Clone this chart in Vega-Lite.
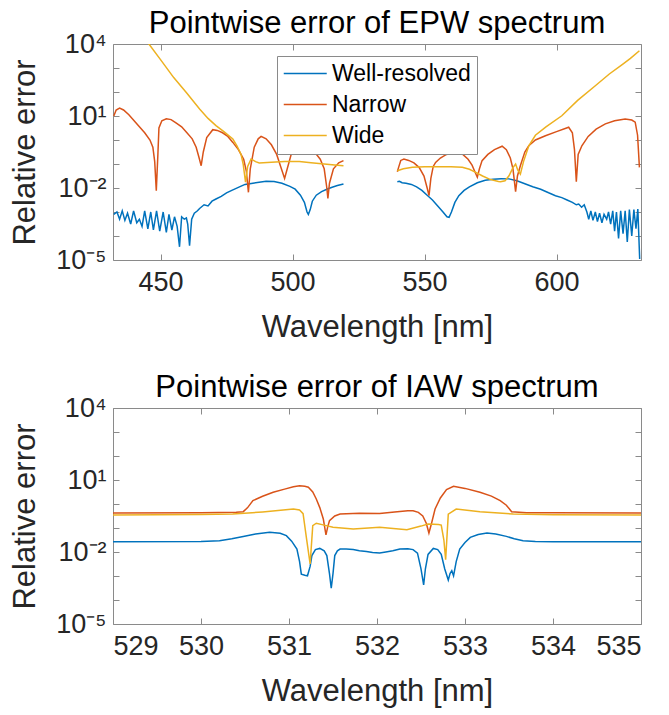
{
"$schema": "https://vega.github.io/schema/vega-lite/v6.json",
"padding": {"left": 9, "top": 8, "right": 5, "bottom": 2},
"config": {
  "font": "Liberation Sans",
  "view": {"stroke": null},
  "axis": {"grid": false, "domainColor": "#8a8a8a", "tickColor": "#8a8a8a", "labelColor": "#262626", "titleColor": "#262626", "labelFont": "Liberation Sans", "titleFont": "Liberation Sans", "labelFontSize": 27, "titleFontSize": 31, "titleFontWeight": "normal", "tickSize": -6, "labelPadding": 10},
  "axisX": {"titlePadding": 17, "labelPadding": 15},
  "axisY": {"titlePadding": 14, "labelPadding": 13},
  "title": {"fontSize": 31, "fontWeight": "normal", "color": "#000000", "font": "Liberation Sans", "offset": -10}
},
"datasets": {
"epw": [
{"wl":432.3,"err":7.94e-4,"method":"Well-resolved","part":"a"},
{"wl":433.5,"err":1.0e-3,"method":"Well-resolved","part":"a"},
{"wl":434.5,"err":5.01e-4,"method":"Well-resolved","part":"a"},
{"wl":435.5,"err":1.12e-3,"method":"Well-resolved","part":"a"},
{"wl":436.5,"err":4.47e-4,"method":"Well-resolved","part":"a"},
{"wl":437.5,"err":8.91e-4,"method":"Well-resolved","part":"a"},
{"wl":438.7,"err":3.16e-4,"method":"Well-resolved","part":"a"},
{"wl":439.8,"err":1.12e-3,"method":"Well-resolved","part":"a"},
{"wl":441,"err":3.55e-4,"method":"Well-resolved","part":"a"},
{"wl":442,"err":5.01e-4,"method":"Well-resolved","part":"a"},
{"wl":443,"err":2.51e-4,"method":"Well-resolved","part":"a"},
{"wl":444,"err":1.12e-3,"method":"Well-resolved","part":"a"},
{"wl":445.2,"err":2.0e-4,"method":"Well-resolved","part":"a"},
{"wl":446.3,"err":1.0e-3,"method":"Well-resolved","part":"a"},
{"wl":447.3,"err":1.78e-4,"method":"Well-resolved","part":"a"},
{"wl":448.5,"err":1.12e-3,"method":"Well-resolved","part":"a"},
{"wl":449.7,"err":1.58e-4,"method":"Well-resolved","part":"a"},
{"wl":451,"err":1.0e-3,"method":"Well-resolved","part":"a"},
{"wl":452.2,"err":1.41e-4,"method":"Well-resolved","part":"a"},
{"wl":453.2,"err":7.94e-4,"method":"Well-resolved","part":"a"},
{"wl":454.3,"err":1.78e-4,"method":"Well-resolved","part":"a"},
{"wl":455.3,"err":6.31e-4,"method":"Well-resolved","part":"a"},
{"wl":456.3,"err":2.51e-4,"method":"Well-resolved","part":"a"},
{"wl":457.2,"err":3.55e-5,"method":"Well-resolved","part":"a"},
{"wl":458,"err":6.31e-4,"method":"Well-resolved","part":"a"},
{"wl":459,"err":5.01e-4,"method":"Well-resolved","part":"a"},
{"wl":459.8,"err":5.62e-4,"method":"Well-resolved","part":"a"},
{"wl":460.3,"err":3.16e-4,"method":"Well-resolved","part":"a"},
{"wl":461,"err":3.98e-5,"method":"Well-resolved","part":"a"},
{"wl":461.8,"err":5.01e-4,"method":"Well-resolved","part":"a"},
{"wl":462.8,"err":8.91e-4,"method":"Well-resolved","part":"a"},
{"wl":464,"err":1.12e-3,"method":"Well-resolved","part":"a"},
{"wl":464.8,"err":1.41e-3,"method":"Well-resolved","part":"a"},
{"wl":466.5,"err":2.0e-3,"method":"Well-resolved","part":"a"},
{"wl":468,"err":1.78e-3,"method":"Well-resolved","part":"a"},
{"wl":469.5,"err":2.82e-3,"method":"Well-resolved","part":"a"},
{"wl":471,"err":3.47e-3,"method":"Well-resolved","part":"a"},
{"wl":473,"err":4.47e-3,"method":"Well-resolved","part":"a"},
{"wl":475,"err":6.31e-3,"method":"Well-resolved","part":"a"},
{"wl":477,"err":7.94e-3,"method":"Well-resolved","part":"a"},
{"wl":479.9,"err":1.12e-2,"method":"Well-resolved","part":"a"},
{"wl":482,"err":1.41e-2,"method":"Well-resolved","part":"a"},
{"wl":485,"err":1.58e-2,"method":"Well-resolved","part":"a"},
{"wl":488,"err":1.78e-2,"method":"Well-resolved","part":"a"},
{"wl":490,"err":1.91e-2,"method":"Well-resolved","part":"a"},
{"wl":493,"err":1.86e-2,"method":"Well-resolved","part":"a"},
{"wl":496,"err":1.58e-2,"method":"Well-resolved","part":"a"},
{"wl":499,"err":1.17e-2,"method":"Well-resolved","part":"a"},
{"wl":501,"err":8.91e-3,"method":"Well-resolved","part":"a"},
{"wl":503,"err":5.01e-3,"method":"Well-resolved","part":"a"},
{"wl":504.5,"err":2.51e-3,"method":"Well-resolved","part":"a"},
{"wl":505.5,"err":1.0e-3,"method":"Well-resolved","part":"a"},
{"wl":506,"err":7.94e-4,"method":"Well-resolved","part":"a"},
{"wl":506.7,"err":1.26e-3,"method":"Well-resolved","part":"a"},
{"wl":507.5,"err":2.82e-3,"method":"Well-resolved","part":"a"},
{"wl":509,"err":5.01e-3,"method":"Well-resolved","part":"a"},
{"wl":511,"err":7.08e-3,"method":"Well-resolved","part":"a"},
{"wl":513,"err":8.91e-3,"method":"Well-resolved","part":"a"},
{"wl":515,"err":1.07e-2,"method":"Well-resolved","part":"a"},
{"wl":517,"err":1.26e-2,"method":"Well-resolved","part":"a"},
{"wl":519.3,"err":1.48e-2,"method":"Well-resolved","part":"a"},
{"wl":539.7,"err":1.82e-2,"method":"Well-resolved","part":"b"},
{"wl":540.5,"err":1.91e-2,"method":"Well-resolved","part":"b"},
{"wl":541.5,"err":1.66e-2,"method":"Well-resolved","part":"b"},
{"wl":543,"err":1.58e-2,"method":"Well-resolved","part":"b"},
{"wl":545,"err":1.41e-2,"method":"Well-resolved","part":"b"},
{"wl":547,"err":1.12e-2,"method":"Well-resolved","part":"b"},
{"wl":549,"err":7.94e-3,"method":"Well-resolved","part":"b"},
{"wl":551,"err":5.01e-3,"method":"Well-resolved","part":"b"},
{"wl":553,"err":3.16e-3,"method":"Well-resolved","part":"b"},
{"wl":555,"err":1.78e-3,"method":"Well-resolved","part":"b"},
{"wl":557,"err":1.0e-3,"method":"Well-resolved","part":"b"},
{"wl":558.5,"err":6.31e-4,"method":"Well-resolved","part":"b"},
{"wl":559.3,"err":6.03e-4,"method":"Well-resolved","part":"b"},
{"wl":560.2,"err":1.0e-3,"method":"Well-resolved","part":"b"},
{"wl":561.5,"err":2.51e-3,"method":"Well-resolved","part":"b"},
{"wl":563,"err":4.79e-3,"method":"Well-resolved","part":"b"},
{"wl":565,"err":7.94e-3,"method":"Well-resolved","part":"b"},
{"wl":567,"err":1.12e-2,"method":"Well-resolved","part":"b"},
{"wl":570,"err":1.66e-2,"method":"Well-resolved","part":"b"},
{"wl":573,"err":2.09e-2,"method":"Well-resolved","part":"b"},
{"wl":576,"err":2.34e-2,"method":"Well-resolved","part":"b"},
{"wl":579,"err":2.45e-2,"method":"Well-resolved","part":"b"},
{"wl":582,"err":2.40e-2,"method":"Well-resolved","part":"b"},
{"wl":585,"err":2.0e-2,"method":"Well-resolved","part":"b"},
{"wl":588,"err":1.51e-2,"method":"Well-resolved","part":"b"},
{"wl":591,"err":1.12e-2,"method":"Well-resolved","part":"b"},
{"wl":594,"err":8.91e-3,"method":"Well-resolved","part":"b"},
{"wl":597,"err":6.31e-3,"method":"Well-resolved","part":"b"},
{"wl":599.6,"err":4.79e-3,"method":"Well-resolved","part":"b"},
{"wl":602,"err":3.98e-3,"method":"Well-resolved","part":"b"},
{"wl":604,"err":3.16e-3,"method":"Well-resolved","part":"b"},
{"wl":606,"err":2.51e-3,"method":"Well-resolved","part":"b"},
{"wl":607.5,"err":2.0e-3,"method":"Well-resolved","part":"b"},
{"wl":608.4,"err":2.14e-3,"method":"Well-resolved","part":"b"},
{"wl":609.5,"err":1.58e-3,"method":"Well-resolved","part":"b"},
{"wl":610.5,"err":2.0e-3,"method":"Well-resolved","part":"b"},
{"wl":611.5,"err":1.0e-3,"method":"Well-resolved","part":"b"},
{"wl":612.2,"err":5.01e-4,"method":"Well-resolved","part":"b"},
{"wl":613,"err":1.12e-3,"method":"Well-resolved","part":"b"},
{"wl":613.8,"err":4.47e-4,"method":"Well-resolved","part":"b"},
{"wl":614.7,"err":1.0e-3,"method":"Well-resolved","part":"b"},
{"wl":615.5,"err":3.98e-4,"method":"Well-resolved","part":"b"},
{"wl":616.3,"err":8.91e-4,"method":"Well-resolved","part":"b"},
{"wl":617.2,"err":3.55e-4,"method":"Well-resolved","part":"b"},
{"wl":618,"err":7.94e-4,"method":"Well-resolved","part":"b"},
{"wl":619,"err":5.01e-4,"method":"Well-resolved","part":"b"},
{"wl":619.7,"err":1.0e-3,"method":"Well-resolved","part":"b"},
{"wl":620.5,"err":3.16e-4,"method":"Well-resolved","part":"b"},
{"wl":621.3,"err":1.12e-3,"method":"Well-resolved","part":"b"},
{"wl":622,"err":1.58e-4,"method":"Well-resolved","part":"b"},
{"wl":622.7,"err":1.0e-3,"method":"Well-resolved","part":"b"},
{"wl":623.5,"err":7.94e-5,"method":"Well-resolved","part":"b"},
{"wl":624.3,"err":1.12e-3,"method":"Well-resolved","part":"b"},
{"wl":625.2,"err":1.26e-4,"method":"Well-resolved","part":"b"},
{"wl":626,"err":1.12e-3,"method":"Well-resolved","part":"b"},
{"wl":626.8,"err":5.62e-5,"method":"Well-resolved","part":"b"},
{"wl":627.6,"err":1.26e-3,"method":"Well-resolved","part":"b"},
{"wl":628.5,"err":1.0e-4,"method":"Well-resolved","part":"b"},
{"wl":629.3,"err":1.26e-3,"method":"Well-resolved","part":"b"},
{"wl":630.1,"err":2.0e-4,"method":"Well-resolved","part":"b"},
{"wl":630.8,"err":1.32e-3,"method":"Well-resolved","part":"b"},
{"wl":631.5,"err":1.1e-5,"method":"Well-resolved","part":"b"},
{"wl":432.3,"err":10,"method":"Narrow","part":"a"},
{"wl":433.2,"err":17.8,"method":"Narrow","part":"a"},
{"wl":434.5,"err":21.4,"method":"Narrow","part":"a"},
{"wl":436,"err":17.8,"method":"Narrow","part":"a"},
{"wl":438,"err":11.2,"method":"Narrow","part":"a"},
{"wl":440,"err":6.31,"method":"Narrow","part":"a"},
{"wl":442,"err":3.55,"method":"Narrow","part":"a"},
{"wl":444,"err":2.0,"method":"Narrow","part":"a"},
{"wl":446,"err":1.0,"method":"Narrow","part":"a"},
{"wl":447.1,"err":0.501,"method":"Narrow","part":"a"},
{"wl":447.8,"err":0.126,"method":"Narrow","part":"a"},
{"wl":448.4,"err":7.76e-3,"method":"Narrow","part":"a"},
{"wl":449,"err":0.251,"method":"Narrow","part":"a"},
{"wl":449.4,"err":3.16,"method":"Narrow","part":"a"},
{"wl":450.5,"err":6.31,"method":"Narrow","part":"a"},
{"wl":452.2,"err":7.59,"method":"Narrow","part":"a"},
{"wl":454,"err":7.08,"method":"Narrow","part":"a"},
{"wl":456,"err":5.01,"method":"Narrow","part":"a"},
{"wl":458,"err":3.55,"method":"Narrow","part":"a"},
{"wl":460,"err":2.0,"method":"Narrow","part":"a"},
{"wl":462,"err":1.12,"method":"Narrow","part":"a"},
{"wl":463.5,"err":0.501,"method":"Narrow","part":"a"},
{"wl":464.5,"err":0.2,"method":"Narrow","part":"a"},
{"wl":465.4,"err":0.0851,"method":"Narrow","part":"a"},
{"wl":466.2,"err":0.316,"method":"Narrow","part":"a"},
{"wl":467.5,"err":1.26,"method":"Narrow","part":"a"},
{"wl":469.8,"err":2.69,"method":"Narrow","part":"a"},
{"wl":471.5,"err":2.51,"method":"Narrow","part":"a"},
{"wl":473.5,"err":2.0,"method":"Narrow","part":"a"},
{"wl":475.5,"err":1.41,"method":"Narrow","part":"a"},
{"wl":477.4,"err":0.794,"method":"Narrow","part":"a"},
{"wl":479.5,"err":0.398,"method":"Narrow","part":"a"},
{"wl":481.5,"err":0.158,"method":"Narrow","part":"a"},
{"wl":482.5,"err":0.0501,"method":"Narrow","part":"a"},
{"wl":483.3,"err":6.61e-3,"method":"Narrow","part":"a"},
{"wl":484,"err":0.0631,"method":"Narrow","part":"a"},
{"wl":485.5,"err":0.501,"method":"Narrow","part":"a"},
{"wl":487,"err":1.12,"method":"Narrow","part":"a"},
{"wl":488.1,"err":1.41,"method":"Narrow","part":"a"},
{"wl":490,"err":1.12,"method":"Narrow","part":"a"},
{"wl":492,"err":0.631,"method":"Narrow","part":"a"},
{"wl":494,"err":0.251,"method":"Narrow","part":"a"},
{"wl":495.5,"err":0.0794,"method":"Narrow","part":"a"},
{"wl":497,"err":0.0251,"method":"Narrow","part":"a"},
{"wl":498,"err":0.0631,"method":"Narrow","part":"a"},
{"wl":499.5,"err":0.251,"method":"Narrow","part":"a"},
{"wl":501.5,"err":0.501,"method":"Narrow","part":"a"},
{"wl":503.2,"err":0.676,"method":"Narrow","part":"a"},
{"wl":505.5,"err":0.562,"method":"Narrow","part":"a"},
{"wl":508,"err":0.355,"method":"Narrow","part":"a"},
{"wl":510.5,"err":0.158,"method":"Narrow","part":"a"},
{"wl":512,"err":0.0631,"method":"Narrow","part":"a"},
{"wl":513,"err":0.01,"method":"Narrow","part":"a"},
{"wl":513.4,"err":3.72e-3,"method":"Narrow","part":"a"},
{"wl":514,"err":0.0158,"method":"Narrow","part":"a"},
{"wl":515.5,"err":0.0631,"method":"Narrow","part":"a"},
{"wl":517.5,"err":0.112,"method":"Narrow","part":"a"},
{"wl":519.3,"err":0.138,"method":"Narrow","part":"a"},
{"wl":539.7,"err":0.0479,"method":"Narrow","part":"b"},
{"wl":540.3,"err":0.0794,"method":"Narrow","part":"b"},
{"wl":541,"err":0.141,"method":"Narrow","part":"b"},
{"wl":542.2,"err":0.162,"method":"Narrow","part":"b"},
{"wl":544,"err":0.141,"method":"Narrow","part":"b"},
{"wl":546,"err":0.112,"method":"Narrow","part":"b"},
{"wl":548,"err":0.0708,"method":"Narrow","part":"b"},
{"wl":549.8,"err":0.0316,"method":"Narrow","part":"b"},
{"wl":551,"err":0.01,"method":"Narrow","part":"b"},
{"wl":551.7,"err":4.79e-3,"method":"Narrow","part":"b"},
{"wl":552.4,"err":0.0251,"method":"Narrow","part":"b"},
{"wl":553.3,"err":0.0794,"method":"Narrow","part":"b"},
{"wl":554.2,"err":0.117,"method":"Narrow","part":"b"},
{"wl":556,"err":0.178,"method":"Narrow","part":"b"},
{"wl":558,"err":0.24,"method":"Narrow","part":"b"},
{"wl":560,"err":0.282,"method":"Narrow","part":"b"},
{"wl":562.4,"err":0.309,"method":"Narrow","part":"b"},
{"wl":564.5,"err":0.251,"method":"Narrow","part":"b"},
{"wl":566.5,"err":0.158,"method":"Narrow","part":"b"},
{"wl":568,"err":0.0891,"method":"Narrow","part":"b"},
{"wl":569,"err":0.0501,"method":"Narrow","part":"b"},
{"wl":570,"err":0.0282,"method":"Narrow","part":"b"},
{"wl":570.8,"err":0.0631,"method":"Narrow","part":"b"},
{"wl":571.8,"err":0.138,"method":"Narrow","part":"b"},
{"wl":574,"err":0.251,"method":"Narrow","part":"b"},
{"wl":576.5,"err":0.398,"method":"Narrow","part":"b"},
{"wl":579.4,"err":0.55,"method":"Narrow","part":"b"},
{"wl":581,"err":0.398,"method":"Narrow","part":"b"},
{"wl":582.5,"err":0.178,"method":"Narrow","part":"b"},
{"wl":583.5,"err":0.0631,"method":"Narrow","part":"b"},
{"wl":584.5,"err":7.08e-3,"method":"Narrow","part":"b"},
{"wl":585.2,"err":0.0316,"method":"Narrow","part":"b"},
{"wl":586.3,"err":0.0851,"method":"Narrow","part":"b"},
{"wl":588,"err":0.316,"method":"Narrow","part":"b"},
{"wl":589.5,"err":0.575,"method":"Narrow","part":"b"},
{"wl":592,"err":1.0,"method":"Narrow","part":"b"},
{"wl":595.8,"err":1.51,"method":"Narrow","part":"b"},
{"wl":600,"err":2.24,"method":"Narrow","part":"b"},
{"wl":604.6,"err":3.39,"method":"Narrow","part":"b"},
{"wl":606,"err":2.0,"method":"Narrow","part":"b"},
{"wl":606.8,"err":0.398,"method":"Narrow","part":"b"},
{"wl":607.5,"err":0.0182,"method":"Narrow","part":"b"},
{"wl":608.2,"err":0.251,"method":"Narrow","part":"b"},
{"wl":609.6,"err":0.575,"method":"Narrow","part":"b"},
{"wl":612,"err":1.41,"method":"Narrow","part":"b"},
{"wl":615,"err":2.82,"method":"Narrow","part":"b"},
{"wl":618.5,"err":4.68,"method":"Narrow","part":"b"},
{"wl":622,"err":6.31,"method":"Narrow","part":"b"},
{"wl":626,"err":7.5,"method":"Narrow","part":"b"},
{"wl":628.5,"err":6.76,"method":"Narrow","part":"b"},
{"wl":629.8,"err":5.5,"method":"Narrow","part":"b"},
{"wl":630.7,"err":1.58,"method":"Narrow","part":"b"},
{"wl":631.4,"err":0.0724,"method":"Narrow","part":"b"},
{"wl":432,"err":794000,"method":"Wide","part":"a"},
{"wl":435,"err":282000,"method":"Wide","part":"a"},
{"wl":438,"err":112000,"method":"Wide","part":"a"},
{"wl":441,"err":39800,"method":"Wide","part":"a"},
{"wl":444,"err":15800,"method":"Wide","part":"a"},
{"wl":445.6,"err":10000,"method":"Wide","part":"a"},
{"wl":450,"err":2240,"method":"Wide","part":"a"},
{"wl":455,"err":398,"method":"Wide","part":"a"},
{"wl":460,"err":89.1,"method":"Wide","part":"a"},
{"wl":464.8,"err":19.5,"method":"Wide","part":"a"},
{"wl":468,"err":7.94,"method":"Wide","part":"a"},
{"wl":471,"err":3.98,"method":"Wide","part":"a"},
{"wl":474,"err":2.24,"method":"Wide","part":"a"},
{"wl":477.4,"err":1.1,"method":"Wide","part":"a"},
{"wl":479,"err":0.562,"method":"Wide","part":"a"},
{"wl":480.5,"err":0.251,"method":"Wide","part":"a"},
{"wl":481.3,"err":0.1,"method":"Wide","part":"a"},
{"wl":482.2,"err":0.0174,"method":"Wide","part":"a"},
{"wl":483,"err":0.0794,"method":"Wide","part":"a"},
{"wl":484.3,"err":0.162,"method":"Wide","part":"a"},
{"wl":486,"err":0.126,"method":"Wide","part":"a"},
{"wl":487.4,"err":0.11,"method":"Wide","part":"a"},
{"wl":492,"err":0.117,"method":"Wide","part":"a"},
{"wl":497,"err":0.126,"method":"Wide","part":"a"},
{"wl":502.6,"err":0.126,"method":"Wide","part":"a"},
{"wl":507,"err":0.112,"method":"Wide","part":"a"},
{"wl":512,"err":0.1,"method":"Wide","part":"a"},
{"wl":516,"err":0.0912,"method":"Wide","part":"a"},
{"wl":519.3,"err":0.0851,"method":"Wide","part":"a"},
{"wl":539.7,"err":0.0525,"method":"Wide","part":"b"},
{"wl":542,"err":0.0631,"method":"Wide","part":"b"},
{"wl":545.4,"err":0.0724,"method":"Wide","part":"b"},
{"wl":550,"err":0.0759,"method":"Wide","part":"b"},
{"wl":555,"err":0.0759,"method":"Wide","part":"b"},
{"wl":560,"err":0.0759,"method":"Wide","part":"b"},
{"wl":564.3,"err":0.0724,"method":"Wide","part":"b"},
{"wl":567,"err":0.0603,"method":"Wide","part":"b"},
{"wl":569.4,"err":0.0447,"method":"Wide","part":"b"},
{"wl":572,"err":0.0316,"method":"Wide","part":"b"},
{"wl":575,"err":0.0224,"method":"Wide","part":"b"},
{"wl":578,"err":0.0186,"method":"Wide","part":"b"},
{"wl":578.8,"err":0.0182,"method":"Wide","part":"b"},
{"wl":580.5,"err":0.02,"method":"Wide","part":"b"},
{"wl":582,"err":0.0324,"method":"Wide","part":"b"},
{"wl":583.5,"err":0.0708,"method":"Wide","part":"b"},
{"wl":584.5,"err":0.1,"method":"Wide","part":"b"},
{"wl":585.3,"err":0.0562,"method":"Wide","part":"b"},
{"wl":586.3,"err":0.038,"method":"Wide","part":"b"},
{"wl":587.5,"err":0.126,"method":"Wide","part":"b"},
{"wl":589.5,"err":0.575,"method":"Wide","part":"b"},
{"wl":592,"err":1.58,"method":"Wide","part":"b"},
{"wl":596,"err":3.55,"method":"Wide","part":"b"},
{"wl":602,"err":10.2,"method":"Wide","part":"b"},
{"wl":608,"err":44.7,"method":"Wide","part":"b"},
{"wl":614.7,"err":182,"method":"Wide","part":"b"},
{"wl":620,"err":562,"method":"Wide","part":"b"},
{"wl":625,"err":1410,"method":"Wide","part":"b"},
{"wl":628,"err":2510,"method":"Wide","part":"b"},
{"wl":631.4,"err":5250,"method":"Wide","part":"b"}
],
"iaw": [
{"wl":529,"err":0.0269,"method":"Well-resolved","part":"a"},
{"wl":530,"err":0.0275,"method":"Well-resolved","part":"a"},
{"wl":530.21,"err":0.0295,"method":"Well-resolved","part":"a"},
{"wl":530.35,"err":0.0355,"method":"Well-resolved","part":"a"},
{"wl":530.48,"err":0.0447,"method":"Well-resolved","part":"a"},
{"wl":530.62,"err":0.0562,"method":"Well-resolved","part":"a"},
{"wl":530.78,"err":0.0661,"method":"Well-resolved","part":"a"},
{"wl":530.9,"err":0.0603,"method":"Well-resolved","part":"a"},
{"wl":530.97,"err":0.0479,"method":"Well-resolved","part":"a"},
{"wl":531.03,"err":0.0282,"method":"Well-resolved","part":"a"},
{"wl":531.09,"err":0.0133,"method":"Well-resolved","part":"a"},
{"wl":531.12,"err":3.98e-3,"method":"Well-resolved","part":"a"},
{"wl":531.14,"err":1.2e-3,"method":"Well-resolved","part":"a"},
{"wl":531.18,"err":1.07e-3,"method":"Well-resolved","part":"a"},
{"wl":531.21,"err":1.02e-3,"method":"Well-resolved","part":"a"},
{"wl":531.24,"err":2.51e-3,"method":"Well-resolved","part":"a"},
{"wl":531.26,"err":7.08e-3,"method":"Well-resolved","part":"a"},
{"wl":531.3,"err":0.0126,"method":"Well-resolved","part":"a"},
{"wl":531.35,"err":0.0141,"method":"Well-resolved","part":"a"},
{"wl":531.4,"err":0.0112,"method":"Well-resolved","part":"a"},
{"wl":531.43,"err":7.08e-3,"method":"Well-resolved","part":"a"},
{"wl":531.46,"err":1.26e-3,"method":"Well-resolved","part":"a"},
{"wl":531.48,"err":3.09e-4,"method":"Well-resolved","part":"a"},
{"wl":531.5,"err":1.26e-3,"method":"Well-resolved","part":"a"},
{"wl":531.52,"err":7.08e-3,"method":"Well-resolved","part":"a"},
{"wl":531.55,"err":0.0112,"method":"Well-resolved","part":"a"},
{"wl":531.58,"err":0.0133,"method":"Well-resolved","part":"a"},
{"wl":531.65,"err":0.0132,"method":"Well-resolved","part":"a"},
{"wl":531.73,"err":0.0126,"method":"Well-resolved","part":"a"},
{"wl":531.8,"err":0.0112,"method":"Well-resolved","part":"a"},
{"wl":531.88,"err":0.0105,"method":"Well-resolved","part":"a"},
{"wl":531.95,"err":9.55e-3,"method":"Well-resolved","part":"a"},
{"wl":532.03,"err":9.12e-3,"method":"Well-resolved","part":"a"},
{"wl":532.1,"err":0.01,"method":"Well-resolved","part":"a"},
{"wl":532.18,"err":0.0112,"method":"Well-resolved","part":"a"},
{"wl":532.26,"err":0.0133,"method":"Well-resolved","part":"a"},
{"wl":532.35,"err":0.0135,"method":"Well-resolved","part":"a"},
{"wl":532.41,"err":0.0126,"method":"Well-resolved","part":"a"},
{"wl":532.46,"err":8.91e-3,"method":"Well-resolved","part":"a"},
{"wl":532.5,"err":2.0e-3,"method":"Well-resolved","part":"a"},
{"wl":532.53,"err":4.22e-4,"method":"Well-resolved","part":"a"},
{"wl":532.55,"err":2.0e-3,"method":"Well-resolved","part":"a"},
{"wl":532.58,"err":7.94e-3,"method":"Well-resolved","part":"a"},
{"wl":532.64,"err":0.0141,"method":"Well-resolved","part":"a"},
{"wl":532.69,"err":0.0126,"method":"Well-resolved","part":"a"},
{"wl":532.73,"err":7.94e-3,"method":"Well-resolved","part":"a"},
{"wl":532.77,"err":1.95e-3,"method":"Well-resolved","part":"a"},
{"wl":532.81,"err":6.76e-4,"method":"Well-resolved","part":"a"},
{"wl":532.83,"err":1.26e-3,"method":"Well-resolved","part":"a"},
{"wl":532.85,"err":1.66e-3,"method":"Well-resolved","part":"a"},
{"wl":532.87,"err":1.02e-3,"method":"Well-resolved","part":"a"},
{"wl":532.9,"err":3.98e-3,"method":"Well-resolved","part":"a"},
{"wl":532.94,"err":0.0133,"method":"Well-resolved","part":"a"},
{"wl":533.0,"err":0.0251,"method":"Well-resolved","part":"a"},
{"wl":533.06,"err":0.0407,"method":"Well-resolved","part":"a"},
{"wl":533.15,"err":0.0537,"method":"Well-resolved","part":"a"},
{"wl":533.25,"err":0.0617,"method":"Well-resolved","part":"a"},
{"wl":533.35,"err":0.0562,"method":"Well-resolved","part":"a"},
{"wl":533.47,"err":0.0447,"method":"Well-resolved","part":"a"},
{"wl":533.56,"err":0.0355,"method":"Well-resolved","part":"a"},
{"wl":533.66,"err":0.0295,"method":"Well-resolved","part":"a"},
{"wl":533.8,"err":0.0275,"method":"Well-resolved","part":"a"},
{"wl":534,"err":0.0269,"method":"Well-resolved","part":"a"},
{"wl":535,"err":0.0269,"method":"Well-resolved","part":"a"},
{"wl":529,"err":0.422,"method":"Narrow","part":"a"},
{"wl":530,"err":0.437,"method":"Narrow","part":"a"},
{"wl":530.4,"err":0.457,"method":"Narrow","part":"a"},
{"wl":530.48,"err":0.479,"method":"Narrow","part":"a"},
{"wl":530.53,"err":0.708,"method":"Narrow","part":"a"},
{"wl":530.59,"err":1.38,"method":"Narrow","part":"a"},
{"wl":530.7,"err":2.09,"method":"Narrow","part":"a"},
{"wl":530.82,"err":3.09,"method":"Narrow","part":"a"},
{"wl":530.95,"err":4.17,"method":"Narrow","part":"a"},
{"wl":531.05,"err":5.25,"method":"Narrow","part":"a"},
{"wl":531.12,"err":5.75,"method":"Narrow","part":"a"},
{"wl":531.18,"err":5.5,"method":"Narrow","part":"a"},
{"wl":531.22,"err":5.01,"method":"Narrow","part":"a"},
{"wl":531.27,"err":3.16,"method":"Narrow","part":"a"},
{"wl":531.31,"err":1.62,"method":"Narrow","part":"a"},
{"wl":531.35,"err":0.708,"method":"Narrow","part":"a"},
{"wl":531.39,"err":0.237,"method":"Narrow","part":"a"},
{"wl":531.42,"err":0.0513,"method":"Narrow","part":"a"},
{"wl":531.44,"err":0.112,"method":"Narrow","part":"a"},
{"wl":531.46,"err":0.2,"method":"Narrow","part":"a"},
{"wl":531.52,"err":0.316,"method":"Narrow","part":"a"},
{"wl":531.58,"err":0.38,"method":"Narrow","part":"a"},
{"wl":531.8,"err":0.407,"method":"Narrow","part":"a"},
{"wl":532.03,"err":0.398,"method":"Narrow","part":"a"},
{"wl":532.2,"err":0.468,"method":"Narrow","part":"a"},
{"wl":532.35,"err":0.525,"method":"Narrow","part":"a"},
{"wl":532.41,"err":0.525,"method":"Narrow","part":"a"},
{"wl":532.47,"err":0.447,"method":"Narrow","part":"a"},
{"wl":532.52,"err":0.316,"method":"Narrow","part":"a"},
{"wl":532.56,"err":0.158,"method":"Narrow","part":"a"},
{"wl":532.59,"err":0.0617,"method":"Narrow","part":"a"},
{"wl":532.62,"err":0.158,"method":"Narrow","part":"a"},
{"wl":532.66,"err":0.617,"method":"Narrow","part":"a"},
{"wl":532.72,"err":1.78,"method":"Narrow","part":"a"},
{"wl":532.79,"err":3.98,"method":"Narrow","part":"a"},
{"wl":532.87,"err":5.5,"method":"Narrow","part":"a"},
{"wl":533.0,"err":4.47,"method":"Narrow","part":"a"},
{"wl":533.17,"err":3.09,"method":"Narrow","part":"a"},
{"wl":533.3,"err":2.14,"method":"Narrow","part":"a"},
{"wl":533.4,"err":1.38,"method":"Narrow","part":"a"},
{"wl":533.47,"err":0.891,"method":"Narrow","part":"a"},
{"wl":533.53,"err":0.479,"method":"Narrow","part":"a"},
{"wl":533.7,"err":0.437,"method":"Narrow","part":"a"},
{"wl":534,"err":0.427,"method":"Narrow","part":"a"},
{"wl":535,"err":0.422,"method":"Narrow","part":"a"},
{"wl":529,"err":0.347,"method":"Wide","part":"a"},
{"wl":530,"err":0.363,"method":"Wide","part":"a"},
{"wl":530.36,"err":0.38,"method":"Wide","part":"a"},
{"wl":530.7,"err":0.468,"method":"Wide","part":"a"},
{"wl":531.05,"err":0.617,"method":"Wide","part":"a"},
{"wl":531.12,"err":0.562,"method":"Wide","part":"a"},
{"wl":531.16,"err":0.398,"method":"Wide","part":"a"},
{"wl":531.2,"err":0.0347,"method":"Wide","part":"a"},
{"wl":531.24,"err":3.16e-3,"method":"Wide","part":"a"},
{"wl":531.27,"err":0.126,"method":"Wide","part":"a"},
{"wl":531.31,"err":0.158,"method":"Wide","part":"a"},
{"wl":531.4,"err":0.132,"method":"Wide","part":"a"},
{"wl":531.5,"err":0.107,"method":"Wide","part":"a"},
{"wl":531.73,"err":0.0912,"method":"Wide","part":"a"},
{"wl":532.03,"err":0.107,"method":"Wide","part":"a"},
{"wl":532.34,"err":0.0851,"method":"Wide","part":"a"},
{"wl":532.5,"err":0.12,"method":"Wide","part":"a"},
{"wl":532.58,"err":0.148,"method":"Wide","part":"a"},
{"wl":532.7,"err":0.141,"method":"Wide","part":"a"},
{"wl":532.73,"err":0.132,"method":"Wide","part":"a"},
{"wl":532.76,"err":0.0316,"method":"Wide","part":"a"},
{"wl":532.78,"err":4.79e-3,"method":"Wide","part":"a"},
{"wl":532.81,"err":0.38,"method":"Wide","part":"a"},
{"wl":532.9,"err":0.617,"method":"Wide","part":"a"},
{"wl":533.17,"err":0.479,"method":"Wide","part":"a"},
{"wl":533.55,"err":0.38,"method":"Wide","part":"a"},
{"wl":534,"err":0.355,"method":"Wide","part":"a"},
{"wl":535,"err":0.347,"method":"Wide","part":"a"}
]
},
"spacing": 30,
"resolve": {"legend": {"color": "independent"}},
"vconcat": [
{
  "title": "Pointwise error of EPW spectrum",
  "width": 528, "height": 216,
  "data": {"name": "epw"},
  "layer": [
    {
      "mark": {"type": "line", "clip": true, "strokeWidth": 1.5},
      "encoding": {
        "x": {"field": "wl", "type": "quantitative", "scale": {"domain": [432, 632], "nice": false, "zero": false}, "axis": {"orient": "bottom", "values": [450, 500, 550, 600], "title": "Wavelength [nm]", "format": "d"}},
        "y": {"field": "err", "type": "quantitative", "scale": {"type": "log", "domain": [1e-5, 10000], "nice": false}, "axis": {"orient": "left", "values": [1e-5, 1e-4, 1e-3, 0.01, 0.1, 1, 10, 100, 1000, 10000], "title": "Relative error", "labelExpr": "datum.value > 5000 ? '10⁴' : (datum.value > 5 && datum.value < 50) ? '10¹' : (datum.value > 0.005 && datum.value < 0.05) ? '10⁻²' : datum.value < 5e-5 ? '10⁻⁵' : ''"}},
        "color": {"field": "method", "type": "nominal", "scale": {"domain": ["Well-resolved", "Narrow", "Wide"], "range": ["#0072BD", "#D95319", "#EDB120"]},
          "legend": {"orient": "none", "legendX": 164, "legendY": 12, "title": null, "labelFontSize": 23, "labelFont": "Liberation Sans", "labelColor": "#000000", "symbolType": "M-1,0H3", "symbolSize": 462, "symbolStrokeWidth": 1.5, "labelOffset": 26, "padding": 6, "rowPadding": 7, "strokeColor": "#8a8a8a", "fillColor": "#ffffff", "cornerRadius": 0}},
        "detail": {"field": "part"}
      }
    },
    {
      "mark": {"type": "line", "opacity": 0, "clip": true},
      "encoding": {
        "x": {"field": "wl", "type": "quantitative", "scale": {"domain": [432, 632], "nice": false, "zero": false}, "axis": {"orient": "top", "values": [450, 500, 550, 600], "labels": false, "title": null, "minExtent": 0, "maxExtent": 0}},
        "y": {"field": "err", "type": "quantitative", "scale": {"type": "log", "domain": [1e-5, 10000], "nice": false}, "axis": {"orient": "right", "values": [1e-5, 1e-4, 1e-3, 0.01, 0.1, 1, 10, 100, 1000, 10000], "labels": false, "title": null, "minExtent": 0, "maxExtent": 0}}
      }
    }
  ],
  "resolve": {"axis": {"x": "independent", "y": "independent"}}
},
{
  "title": "Pointwise error of IAW spectrum",
  "width": 528, "height": 216,
  "data": {"name": "iaw"},
  "layer": [
    {
      "mark": {"type": "line", "clip": true, "strokeWidth": 1.5},
      "encoding": {
        "x": {"field": "wl", "type": "quantitative", "scale": {"domain": [529, 535], "nice": false, "zero": false}, "axis": {"orient": "bottom", "values": [529, 530, 531, 532, 533, 534, 535], "title": "Wavelength [nm]", "format": "d"}},
        "y": {"field": "err", "type": "quantitative", "scale": {"type": "log", "domain": [1e-5, 10000], "nice": false}, "axis": {"orient": "left", "values": [1e-5, 1e-4, 1e-3, 0.01, 0.1, 1, 10, 100, 1000, 10000], "title": "Relative error", "labelExpr": "datum.value > 5000 ? '10⁴' : (datum.value > 5 && datum.value < 50) ? '10¹' : (datum.value > 0.005 && datum.value < 0.05) ? '10⁻²' : datum.value < 5e-5 ? '10⁻⁵' : ''"}},
        "color": {"field": "method", "type": "nominal", "scale": {"domain": ["Well-resolved", "Narrow", "Wide"], "range": ["#0072BD", "#D95319", "#EDB120"]}, "legend": null},
        "detail": {"field": "part"}
      }
    },
    {
      "mark": {"type": "line", "opacity": 0, "clip": true},
      "encoding": {
        "x": {"field": "wl", "type": "quantitative", "scale": {"domain": [529, 535], "nice": false, "zero": false}, "axis": {"orient": "top", "values": [529, 530, 531, 532, 533, 534, 535], "labels": false, "title": null, "minExtent": 0, "maxExtent": 0}},
        "y": {"field": "err", "type": "quantitative", "scale": {"type": "log", "domain": [1e-5, 10000], "nice": false}, "axis": {"orient": "right", "values": [1e-5, 1e-4, 1e-3, 0.01, 0.1, 1, 10, 100, 1000, 10000], "labels": false, "title": null, "minExtent": 0, "maxExtent": 0}}
      }
    }
  ],
  "resolve": {"axis": {"x": "independent", "y": "independent"}}
}
]
}
